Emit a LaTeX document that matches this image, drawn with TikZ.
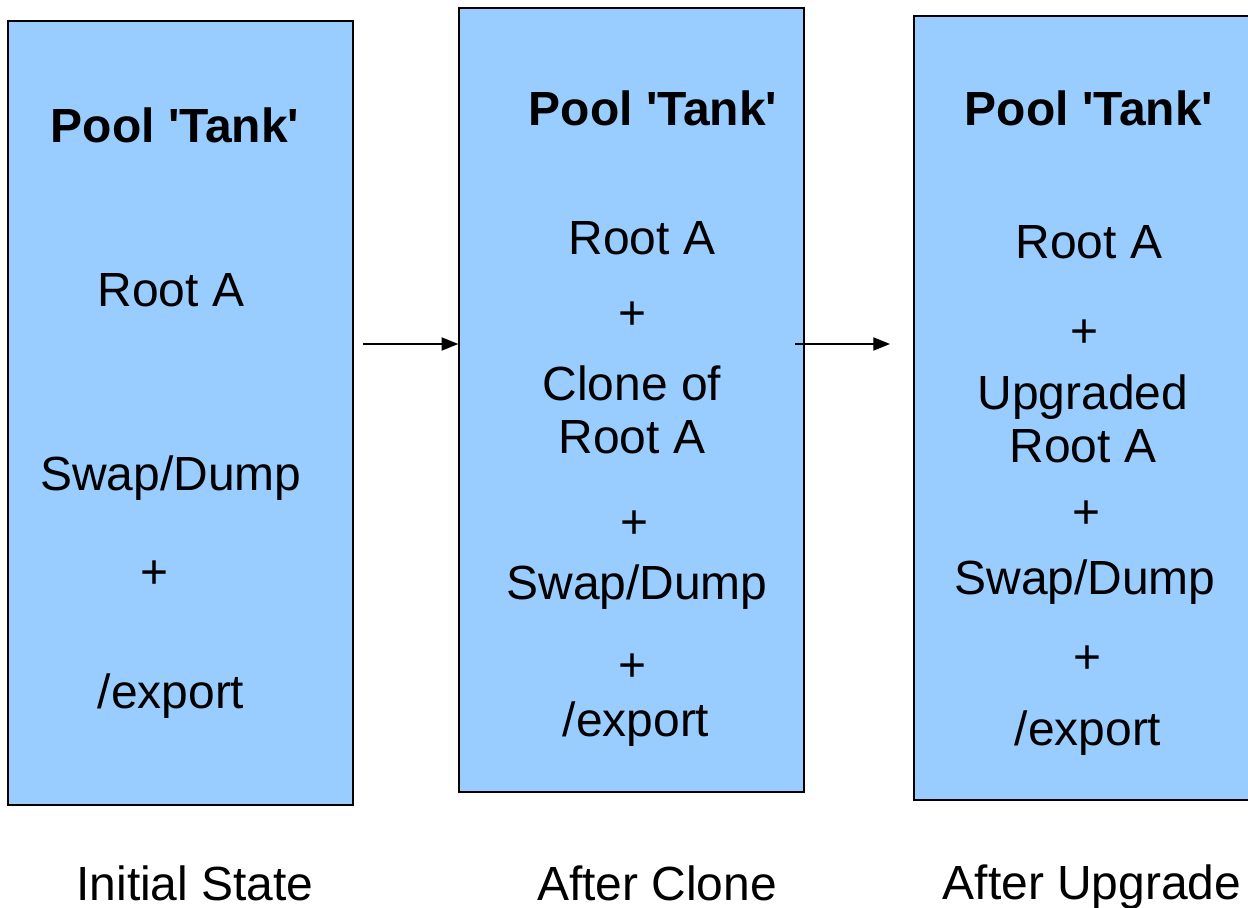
\documentclass[tikz,border=0pt]{standalone}
\usepackage{fontspec}
\setmainfont{Liberation Sans}
\usetikzlibrary{arrows.meta}
\definecolor{poolblue}{HTML}{99CCFF}
\newcommand{\tank}{Pool \textquotesingle Tank\textquotesingle}

\begin{document}
\begin{tikzpicture}
    [
        x=0.02cm, y=-0.02cm,
        pool/.style={rectangle, draw, fill=poolblue, line width=0.85pt,
            minimum width=6.9cm, minimum height=15.68cm, inner sep=0pt},
        entry/.style={font=\fontsize{27.3}{30}\selectfont, align=center, inner sep=0pt},
        title/.style={entry, font=\fontsize{27.3}{30}\selectfont\bfseries},
        arrow/.style={-{Triangle[length=9.5pt, width=7.5pt]}, line width=0.7pt},
    ]
    \useasboundingbox (0,0) rectangle (1248,908);

    % the three pools
    \node (initial) at (180.5, 413) [pool] {};
    \node (clone) at (631.5, 400) [pool] {};
    \node (upgrade) at (1086.5, 408) [pool] {};

    % initial state
    \node (t1) at (175, 125) [title] {\tank};
    \node (r1) at (171, 290) [entry] {Root A};
    \node (s1) at (171, 478) [entry] {Swap/Dump};
    \node (p1) at (155, 575) [entry] {+};
    \node (e1) at (171, 696) [entry] {/export};

    % after clone
    \node (t2) at (653, 108) [title] {\tank};
    \node (r2) at (642, 238) [entry] {Root A};
    \node (p2a) at (632, 316) [entry] {+};
    \node (c2) at (632, 410) [entry] {Clone of\\Root A};
    \node (p2b) at (634, 525) [entry] {+};
    \node (s2) at (637, 587) [entry] {Swap/Dump};
    \node (p2c) at (632, 668) [entry] {+};
    \node (e2) at (636, 724) [entry] {/export};

    % after upgrade
    \node (t3) at (1089, 108) [title] {\tank};
    \node (r3) at (1089, 242) [entry] {Root A};
    \node (p3a) at (1084, 334) [entry] {+};
    \node (u3) at (1083, 419) [entry] {Upgraded\\Root A};
    \node (p3b) at (1086, 515) [entry] {+};
    \node (s3) at (1085, 582) [entry] {Swap/Dump};
    \node (p3c) at (1087, 660) [entry] {+};
    \node (e3) at (1088, 733) [entry] {/export};

    % captions
    \node (l1) at (195, 883) [entry] {Initial State};
    \node (l2) at (657, 883) [entry] {After Clone};
    \node (l3) at (1092, 887) [entry] {After Upgrade};

    \coordinate (a1) at (363, 344);
    \coordinate (a2) at (795, 344);
    \coordinate (a3) at (890, 344);
    \draw[arrow] (a1) -- (a1 -| clone.west);
    \draw[arrow] (a2) -- (a3);
\end{tikzpicture}
\end{document}
